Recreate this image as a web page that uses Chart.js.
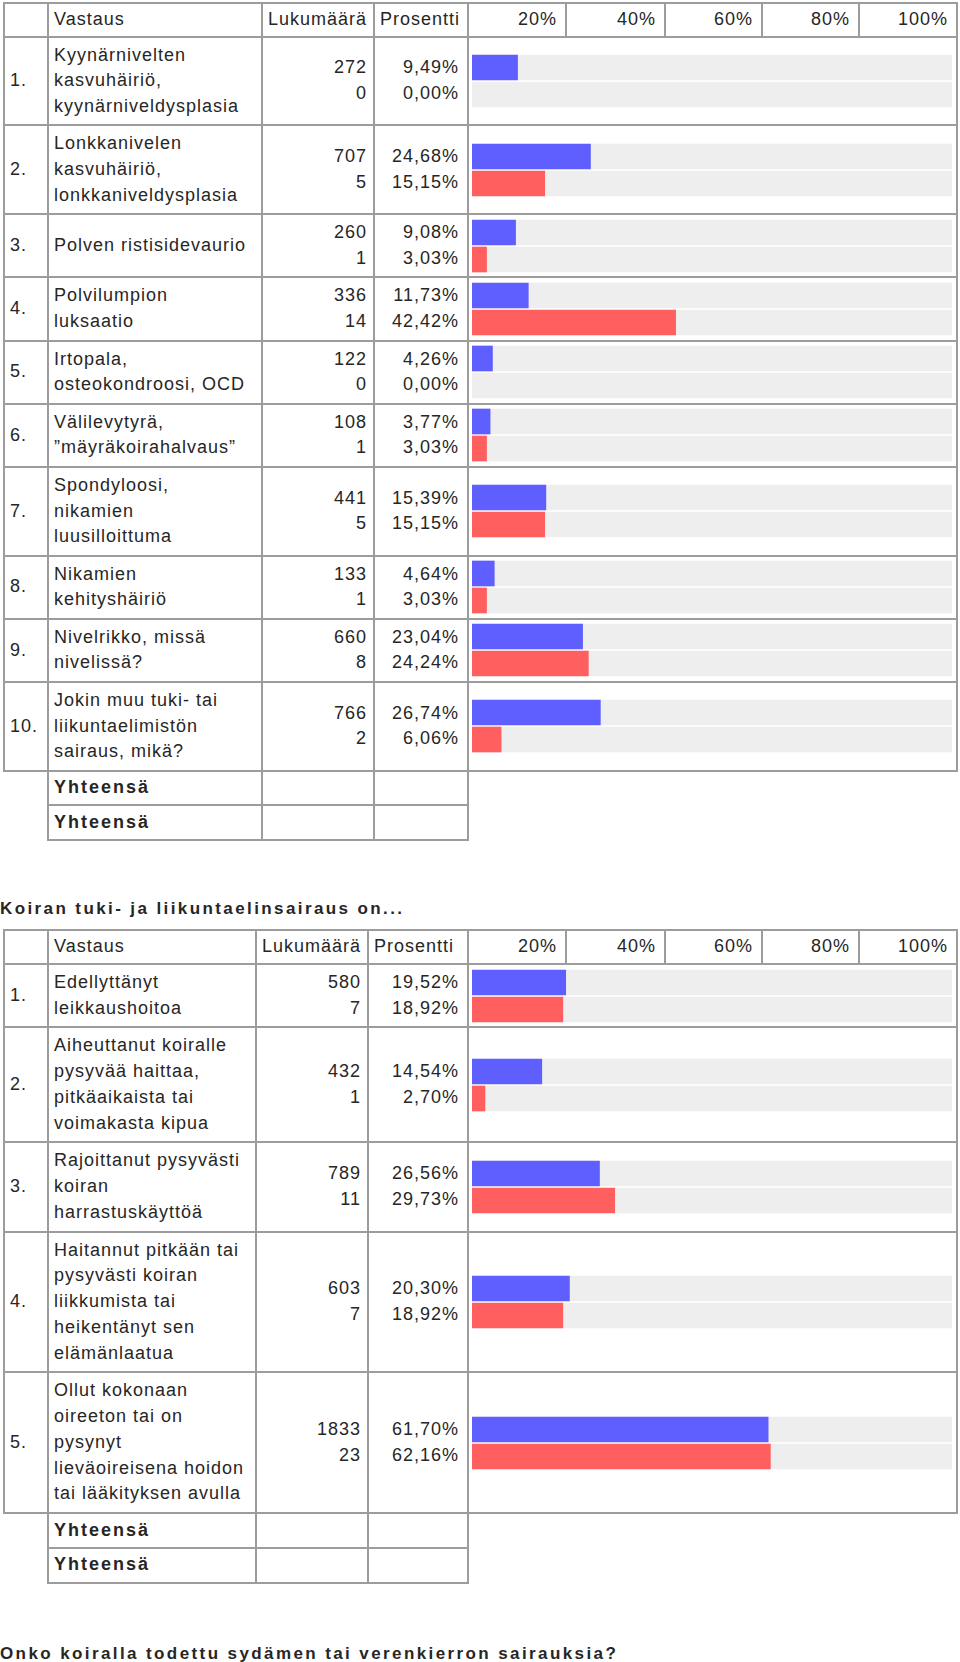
<!DOCTYPE html>
<html>
<head>
<meta charset="utf-8">
<script src="https://cdn.jsdelivr.net/npm/chart.js@4.4.1/dist/chart.umd.min.js"></script>
<style>
body{margin:0;background:#fff;color:#262626;font-family:"Liberation Sans",Arial,sans-serif;font-size:18px;letter-spacing:1px;}
#wrap{padding:2px 0 0 3px;width:960px;}
table{border-collapse:collapse;table-layout:fixed;width:955px;}
td{border:2px solid #9c9c9c;padding:5px 5px;line-height:25.6px;white-space:nowrap;vertical-align:middle;}
#t2 td{line-height:25.75px;}
tr.head td{padding-top:3px;padding-bottom:3px;}
tr.sum td{padding-top:3.5px;padding-bottom:3.5px;}
td.num{text-align:right;padding-right:6px;}
td.pct{text-align:right;padding-right:8px;}
td.tick{text-align:right;padding-right:8px;}
td.bars{padding:3px 0 3px 3px;}
td.bars canvas{display:block;}
td.blank{border:none;}
td.sumlabel{font-weight:bold;letter-spacing:2px;}
h3{margin:0;font-size:17px;font-weight:bold;letter-spacing:2.4px;line-height:20px;}
#title1{margin:58px 0 0 -3px;}
#title2{margin:60px 0 0 -3px;}
#t2{margin-top:10px;}
</style>
</head>
<body>
<div id="wrap">
<table id="t1">
<colgroup><col style="width:44px"><col style="width:214px"><col style="width:112px"><col style="width:94px">
<col style="width:98px"><col style="width:99px"><col style="width:97px"><col style="width:97px"><col style="width:98px"></colgroup>
<tbody></tbody>
</table>
<h3 id="title1">Koiran tuki- ja liikuntaelinsairaus on...</h3>
<table id="t2">
<colgroup><col style="width:44px"><col style="width:208px"><col style="width:112px"><col style="width:100px">
<col style="width:98px"><col style="width:99px"><col style="width:97px"><col style="width:97px"><col style="width:98px"></colgroup>
<tbody></tbody>
</table>
<h3 id="title2">Onko koiralla todettu sydämen tai verenkierron sairauksia?</h3>
</div>

<script>
// header texts
const headCols = ["Vastaus", "Lukumäärä", "Prosentti"];
const tickLabels = ["20%", "40%", "60%", "80%", "100%"];
const sumLabel = "Yhteensä";

// table 1
const labels1 = [
  "Kyynärnivelten\nkasvuhäiriö,\nkyynärniveldysplasia",
  "Lonkkanivelen\nkasvuhäiriö,\nlonkkaniveldysplasia",
  "Polven ristisidevaurio",
  "Polvilumpion\nluksaatio",
  "Irtopala,\nosteokondroosi, OCD",
  "Välilevytyrä,\n”mäyräkoirahalvaus”",
  "Spondyloosi,\nnikamien\nluusilloittuma",
  "Nikamien\nkehityshäiriö",
  "Nivelrikko, missä\nnivelissä?",
  "Jokin muu tuki- tai\nliikuntaelimistön\nsairaus, mikä?"
];
const countBlue1 = [272, 707, 260, 336, 122, 108, 441, 133, 660, 766];
const countRed1 = [0, 5, 1, 14, 0, 1, 5, 1, 8, 2];
const pctBlue1 = [9.49, 24.68, 9.08, 11.73, 4.26, 3.77, 15.39, 4.64, 23.04, 26.74];
const pctRed1 = [0.00, 15.15, 3.03, 42.42, 0.00, 3.03, 15.15, 3.03, 24.24, 6.06];

// table 2
const labels2 = [
  "Edellyttänyt\nleikkaushoitoa",
  "Aiheuttanut koiralle\npysyvää haittaa,\npitkäaikaista tai\nvoimakasta kipua",
  "Rajoittanut pysyvästi\nkoiran\nharrastuskäyttöä",
  "Haitannut pitkään tai\npysyvästi koiran\nliikkumista tai\nheikentänyt sen\nelämänlaatua",
  "Ollut kokonaan\noireeton tai on\npysynyt\nlieväoireisena hoidon\ntai lääkityksen avulla"
];
const countBlue2 = [580, 432, 789, 603, 1833];
const countRed2 = [7, 1, 11, 7, 23];
const pctBlue2 = [19.52, 14.54, 26.56, 20.30, 61.70];
const pctRed2 = [18.92, 2.70, 29.73, 18.92, 62.16];

const BLUE = "#5f5fff";
const RED = "#ff5f5f";
const TRACK = "#eeeeee";
const trackMax = 100;

function fmtPct(v){
  return v.toFixed(2).replace(".", ",") + "%";
}

function td(html, cls, colspan){
  let c = document.createElement("td");
  if(cls) c.className = cls;
  if(colspan) c.colSpan = colspan;
  c.innerHTML = html;
  return c;
}

function drawBars(cell, blue, red){
  let canvas = document.createElement("canvas");
  canvas.width = 480;
  canvas.height = 54;
  cell.appendChild(canvas);
  const colors = [BLUE, RED];
  new Chart(canvas.getContext("2d"), {
    type: "bar",
    data: {
      labels: ["a", "b"],
      datasets: [
        {
          data: [blue, red],
          // zero values leave only the grey track
          backgroundColor: (ctx) => ctx.raw > 0 ? colors[ctx.dataIndex] : "rgba(0,0,0,0)",
          borderWidth: 0,
          barThickness: 25,
          grouped: false,
          order: 1
        },
        {
          data: [trackMax, trackMax],
          backgroundColor: TRACK,
          borderWidth: 0,
          barThickness: 25,
          grouped: false,
          order: 2
        }
      ]
    },
    options: {
      indexAxis: "y",
      responsive: false,
      animation: false,
      layout: { padding: 0 },
      plugins: { legend: { display: false }, tooltip: { enabled: false } },
      scales: {
        x: { display: false, min: 0, max: trackMax },
        y: { display: false }
      }
    }
  });
}

function buildTable(id, labels, cBlue, cRed, pBlue, pRed){
  let body = document.querySelector("#" + id + " tbody");

  let head = document.createElement("tr");
  head.className = "head";
  head.appendChild(td(""));
  head.appendChild(td(headCols[0]));
  head.appendChild(td(headCols[1]));
  head.appendChild(td(headCols[2]));
  tickLabels.forEach(function(t){
    head.appendChild(td(t, "tick"));
  });
  body.appendChild(head);

  labels.forEach(function(label, i){
    let row = document.createElement("tr");
    row.appendChild(td((i + 1) + "."));
    row.appendChild(td(label.split("\n").join("<br>")));
    row.appendChild(td(cBlue[i] + "<br>" + cRed[i], "num"));
    row.appendChild(td(fmtPct(pBlue[i]) + "<br>" + fmtPct(pRed[i]), "pct"));
    let barCell = td("", "bars", 5);
    row.appendChild(barCell);
    body.appendChild(row);
    drawBars(barCell, pBlue[i], pRed[i]);
  });

  // two empty total rows
  for(let k = 0; k < 2; k++){
    let row = document.createElement("tr");
    row.className = "sum";
    row.appendChild(td("", "blank"));
    row.appendChild(td(sumLabel, "sumlabel"));
    row.appendChild(td(""));
    row.appendChild(td(""));
    row.appendChild(td("", "blank", 5));
    body.appendChild(row);
  }
}

buildTable("t1", labels1, countBlue1, countRed1, pctBlue1, pctRed1);
buildTable("t2", labels2, countBlue2, countRed2, pctBlue2, pctRed2);
</script>
</body>
</html>
